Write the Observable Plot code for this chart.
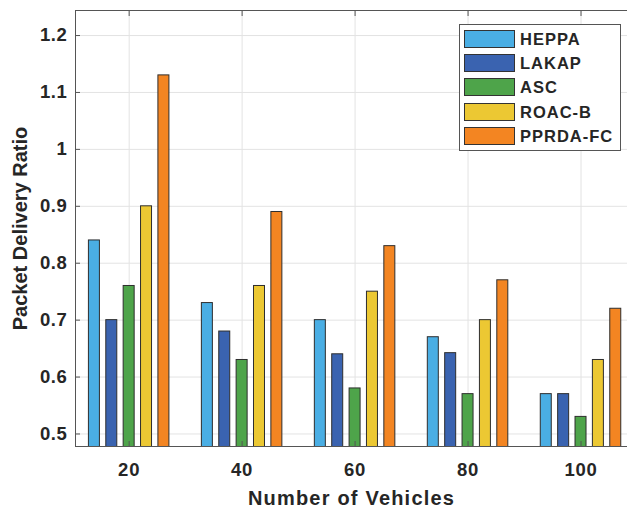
<!DOCTYPE html>
<html><head><meta charset="utf-8">
<script src="https://cdn.jsdelivr.net/npm/d3@7"></script>
<script src="https://cdn.jsdelivr.net/npm/@observablehq/plot@0.6"></script>
<style>
body{margin:0;background:#fff;}
#wrap{position:relative;width:627px;height:508px;font-family:"Liberation Sans",Arial,sans-serif;}
#wrap svg text{font-weight:bold;fill:#262626;}
g[aria-label="y-axis tick label"] text{letter-spacing:0.6px;}
g[aria-label="x-axis tick label"] text{letter-spacing:0.8px;}
g[aria-label="x-axis label"] text{font-size:20px;letter-spacing:1.2px;}
g[aria-label="y-axis label"] text{font-size:20px;}
#legend{position:absolute;left:459px;top:24px;width:162px;height:127px;border:1px solid #555;background:#fff;box-sizing:border-box;}
.row{position:absolute;left:4px;height:18px;}
.sw{position:absolute;left:0;top:0;width:51px;height:18px;border:1px solid #333;box-sizing:border-box;}
.lab{position:absolute;left:56px;top:0;line-height:18px;font-size:16.5px;font-weight:bold;letter-spacing:1px;color:#262626;white-space:nowrap;}
</style>
</head><body>
<div id="wrap"></div>
<script>
const vehicles = [20, 40, 60, 80, 100];
const seriesNames = ["HEPPA", "LAKAP", "ASC", "ROAC-B", "PPRDA-FC"];
const seriesColors = ["#4aaee4", "#3a63b0", "#4ea44a", "#ecc833", "#f38522"];
const heppa = [0.84, 0.73, 0.70, 0.67, 0.57];
const lakap = [0.70, 0.68, 0.64, 0.642, 0.57];
const asc = [0.76, 0.63, 0.58, 0.57, 0.53];
const roacB = [0.90, 0.76, 0.75, 0.70, 0.63];
const pprdaFc = [1.13, 0.89, 0.83, 0.77, 0.72];
const yTicks = [0.5, 0.6, 0.7, 0.8, 0.9, 1.0, 1.1, 1.2];
const yTickLabels = ["0.5", "0.6", "0.7", "0.8", "0.9", "1", "1.1", "1.2"];
const xTickLabels = ["20", "40", "60", "80", "100"];
const yLim = [0.478, 1.244];
const xLim = [10.5, 110];

const allSeries = [heppa, lakap, asc, roacB, pprdaFc];
const groupWidth = 20 * 0.769;
const slot = groupWidth / seriesNames.length;
const barW = slot * 0.633;
const rows = [];
allSeries.forEach((vals, i) => {
  vals.forEach((v, j) => {
    const c = vehicles[j] + (i - (seriesNames.length - 1) / 2) * slot;
    rows.push({series: seriesNames[i], vehicles: vehicles[j], value: v, x1: c - barW / 2, x2: c + barW / 2});
  });
});

const axisColor = "#555";
const chart = Plot.plot({
  width: 627, height: 508,
  marginLeft: 75, marginRight: 0, marginTop: 10, marginBottom: 62,
  style: {fontFamily: '"Liberation Sans", Arial, sans-serif', background: "#fff"},
  x: {type: "linear", domain: xLim, range: [75, 637]},
  y: {domain: yLim},
  color: {domain: seriesNames, range: seriesColors},
  marks: [
    Plot.gridX(vehicles, {stroke: "#e3e3e3", strokeOpacity: 1, strokeWidth: 1}),
    Plot.gridY(yTicks, {stroke: "#e3e3e3", strokeOpacity: 1, strokeWidth: 1}),
    Plot.rectY(rows, {x1: "x1", x2: "x2", y1: 0, y2: "value", fill: "series", stroke: "#2e2e2e", strokeWidth: 1, clip: true}),
    Plot.ruleY([yLim[0]], {stroke: axisColor}),
    Plot.ruleY([yLim[1]], {stroke: axisColor}),
    Plot.ruleX([xLim[0]], {stroke: axisColor}),
    Plot.axisY(yTicks, {anchor: "left", tickSize: -5, stroke: axisColor, tickFormat: () => "", label: null}),
    Plot.axisY(yTicks, {anchor: "left", tickSize: 0, tickPadding: 8, fontSize: 18.5, tickFormat: (d, i) => yTickLabels[i],
      label: "Packet Delivery Ratio", labelAnchor: "center", labelArrow: "none", labelOffset: 63}),
    Plot.axisX(vehicles, {anchor: "bottom", tickSize: -5, stroke: axisColor, tickFormat: () => "", label: null}),
    Plot.axisX(vehicles, {anchor: "top", tickSize: -5, stroke: axisColor, tickFormat: () => "", label: null}),
    Plot.axisX(vehicles, {anchor: "bottom", tickSize: 0, tickPadding: 16, fontSize: 18.5, tickFormat: (d, i) => xTickLabels[i],
      label: "Number of Vehicles", labelAnchor: "center", labelArrow: "none", labelOffset: 58})
  ]
});
const wrap = document.getElementById("wrap");
wrap.appendChild(chart);

const legend = document.createElement("div");
legend.id = "legend";
seriesNames.forEach((name, i) => {
  const row = document.createElement("div");
  row.className = "row";
  row.style.top = (4.5 + i * 24.4) + "px";
  const sw = document.createElement("div");
  sw.className = "sw";
  sw.style.background = seriesColors[i];
  const lab = document.createElement("div");
  lab.className = "lab";
  lab.textContent = name;
  row.appendChild(sw); row.appendChild(lab);
  legend.appendChild(row);
});
wrap.appendChild(legend);
</script>
</body></html>
